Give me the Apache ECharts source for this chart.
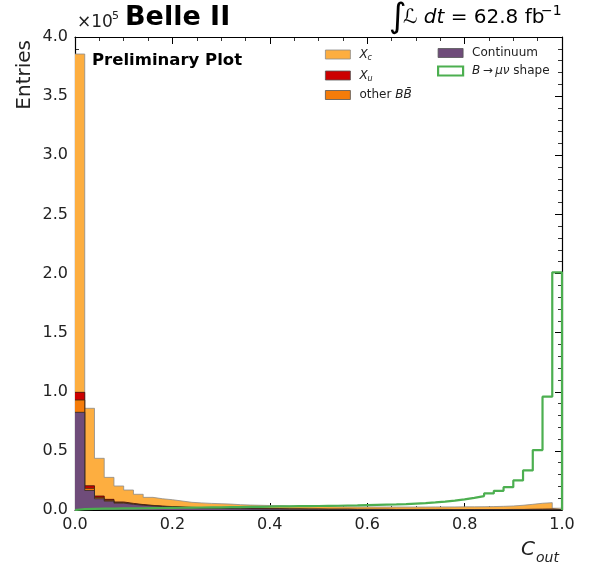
<!DOCTYPE html>
<html><head><meta charset="utf-8">
<script src="https://cdn.jsdelivr.net/npm/echarts@6/dist/echarts.min.js"></script>
<style>html,body{margin:0;padding:0;background:#fff}#c{width:591px;height:567px}</style>
</head><body><div id="c"></div>
<script>
// Histogram: 50 bins on C_out in [0,1], entries in units of 1e5
const binWidth = 0.02;
const continuum = [0.826,0.165,0.095,0.075,0.058,0.048,0.040,0.034,0.029,0.025,
0.022,0.019,0.017,0.015,0.013,0.012,0.011,0.010,0.009,0.008,
0.008,0.007,0.007,0.006,0.006,0.005,0.005,0.005,0.004,0.004,
0.004,0.004,0.003,0.003,0.003,0.003,0.003,0.003,0.002,0.002,
0.002,0.002,0.002,0.002,0.002,0.002,0.002,0.002,0.002,0.001];
const otherBB = [0.104,0.018,0.010,0.007,0.005,0.004,0.003,0.003,0.002,0.002,
0.002,0.002,0.002,0.001,0.001,0.001,0.001,0.001,0.001,0.001,
0.001,0.001,0.001,0.001,0.001,0.001,0.001,0.001,0.001,0.001,
0.001,0.001,0.001,0.001,0.001,0.001,0.001,0.001,0.001,0.001,
0.001,0.001,0.001,0.001,0.002,0.002,0.003,0.003,0.004,0.001];
const xu = [0.065,0.022,0.013,0.008,0.005,0.004,0.003,0.002,0.002,0.002,
0.001,0.001,0.001,0.001,0.001,0.001,0.001,0.001,0.001,0.001,
0.001,0.001,0.001,0.001,0.001,0.001,0.001,0.001,0.001,0.001,
0.001,0.001,0.001,0.001,0.001,0.001,0.001,0.001,0.001,0.001,
0.001,0.001,0.001,0.001,0.001,0.001,0.001,0.002,0.002,0.001];
const xc = [2.861,0.655,0.319,0.186,0.135,0.113,0.087,0.068,0.062,0.058,
0.051,0.043,0.040,0.039,0.038,0.036,0.032,0.030,0.029,0.028,
0.026,0.025,0.023,0.023,0.022,0.022,0.021,0.020,0.020,0.020,
0.019,0.019,0.020,0.020,0.020,0.020,0.021,0.021,0.022,0.023,
0.023,0.024,0.025,0.027,0.029,0.035,0.042,0.050,0.054,0.012];
const signal = [0.008,0.010,0.011,0.012,0.013,0.014,0.015,0.016,0.017,0.018,
0.019,0.020,0.021,0.022,0.023,0.024,0.025,0.026,0.027,0.028,
0.030,0.031,0.032,0.033,0.034,0.035,0.036,0.038,0.039,0.041,
0.043,0.045,0.047,0.050,0.054,0.058,0.064,0.071,0.079,0.090,
0.103,0.118,0.140,0.162,0.193,0.250,0.335,0.507,0.958,2.010];
const yTicks = [0,0.5,1.0,1.5,2.0,2.5,3.0,3.5,4.0];
const xTicks = [0,0.2,0.4,0.6,0.8,1.0];

const FONT = 'DejaVu Sans';
function stepData(arr){
  const d = arr.map((v,i)=>[i*binWidth, v]);
  d.push([arr.length*binWidth, arr[arr.length-1]]);
  return d;
}
// stack order bottom -> top
const layers = [
  {name:'Continuum', data:continuum, color:'#6f4c7a', edge:'#2b2b2b'},
  {name:'other', data:otherBB, color:'#f57c0a', edge:'#3b2a12'},
  {name:'Xu', data:xu, color:'#cc0000', edge:'#3b0c0c'},
  {name:'Xc', data:xc, color:'#fdae40', edge:'#8c8c8c'}
];
// cumulative tops computed from the layer arrays
let running = continuum.map(()=>0);
layers.forEach(l => { running = running.map((r,i)=>r + l.data[i]); l.cum = running.slice(); });
const series = layers.map(l => ({
  type:'line', name:l.name, step:'end', symbol:'none',
  data: stepData(l.cum), xAxisIndex:0, yAxisIndex:0,
  lineStyle:{color:l.edge, width:0.8},
  itemStyle:{color:l.color},
  areaStyle:{color:l.color, opacity:1, origin:'start'}
})).reverse();
// upper layers drawn first so lower layers paint over them
series.forEach((s, k) => { s.z = 2 + k * 0.01; });
series.push({
  type:'line', name:'signal', step:'end', symbol:'none', xAxisIndex:0, yAxisIndex:0,
  data: [[0,0]].concat(stepData(signal), [[1,0]]),
  lineStyle:{color:'#4caf50', width:2.2}, itemStyle:{color:'#4caf50'}, z:3
});

const legendRich = {
  n:{fontFamily:FONT, fontSize:12, color:'#222', lineHeight:14},
  it:{fontFamily:FONT, fontSize:12, fontStyle:'italic', color:'#222', lineHeight:14},
  sub:{fontFamily:FONT, fontSize:8, fontStyle:'italic', color:'#222', padding:[7,0,0,0], lineHeight:14}
};
const legendLabels = {
  'Xc':'{it|X}{sub|c}',
  'Xu':'{it|X}{sub|u}',
  'other':'{n|other }{it|BB\u0304}',
  'Continuum':'{n|Continuum}',
  'signal':'{it|B}{n|\u2009\u2192\u2009}{it|\u03bc\u03bd}{n| shape}'
};
const legendCommon = {
  orient:'vertical', icon:'rect', itemWidth:25, itemHeight:9, itemGap:6,
  selectedMode:false, top:47, padding:0,
  formatter: n => legendLabels[n],
  textStyle:{fontFamily:FONT, fontSize:12, color:'#222', rich:legendRich, padding:[0,0,0,4]}
};
function axisCommon(){
  return {
    type:'value', splitLine:{show:false},
    axisLine:{show:true, onZero:false, lineStyle:{color:'#000', width:1.2}},
    axisTick:{show:true, inside:true, length:7, lineStyle:{color:'#000', width:1}},
    axisLabel:{show:false}
  };
}
function minor(n){ return {show:true, splitNumber:n, length:4, lineStyle:{color:'#000', width:0.8}}; }
const chart = echarts.init(document.getElementById('c'), null, {renderer:'canvas'});
chart.setOption({
  animation:false,
  backgroundColor:'#fff',
  grid:{left:75, right:29, top:37, bottom:57, containLabel:false},
  xAxis:[
    Object.assign(axisCommon(), {min:0, max:1, interval:0.2, position:'bottom', minorTick:minor(4),
      axisLabel:{show:true, fontFamily:FONT, fontSize:16, color:'#222', margin:7,
        formatter:v => xTicks.indexOf(+v.toFixed(1))>=0 ? v.toFixed(1) : ''}}),
    Object.assign(axisCommon(), {min:0, max:1, interval:0.2, position:'top', minorTick:minor(4)})
  ],
  yAxis:[
    Object.assign(axisCommon(), {min:0, max:4, interval:0.5, position:'left', minorTick:minor(5),
      axisLabel:{show:true, fontFamily:FONT, fontSize:16, color:'#222', margin:7,
        formatter:v => yTicks.indexOf(+v.toFixed(1))>=0 ? v.toFixed(1) : ''}}),
    Object.assign(axisCommon(), {min:0, max:4, interval:0.5, position:'right', minorTick:minor(5)})
  ],
  legend:[
    Object.assign({}, legendCommon, {left:325, data:[
      {name:'Xc', itemStyle:{color:'#fdae40', borderColor:'#8c8c8c', borderWidth:0.8}},
      {name:'Xu', itemStyle:{color:'#cc0000', borderColor:'#555', borderWidth:0.8}},
      {name:'other', itemStyle:{color:'#f57c0a', borderColor:'#555', borderWidth:0.8}}
    ]}),
    Object.assign({}, legendCommon, {left:437, data:[
      {name:'Continuum', itemStyle:{color:'#6f4c7a', borderColor:'#555', borderWidth:0.8}},
      {name:'signal', itemStyle:{color:'#ffffff', borderColor:'#4caf50', borderWidth:2.2}}
    ]})
  ],
  graphic:[
    {type:'text', left:77, top:14, style:{text:'\u00d710', fontFamily:FONT, fontSize:17, fill:'#222'}},
    {type:'text', left:112, top:11, style:{text:'5', fontFamily:FONT, fontSize:11, fill:'#222'}},
    {type:'text', left:125, top:4, style:{text:'Belle II', fontFamily:FONT, fontSize:27, fontWeight:'bold', fill:'#000'}},
    {type:'text', left:389, top:1, style:{text:'\u222b', fontFamily:FONT, fontSize:34, fill:'#000'}},
    {type:'text', left:403, top:8, style:{
      text:'{L|\u2112} {it|dt} = 62.8 fb',
      fontFamily:FONT, fontSize:20, fill:'#000',
      rich:{L:{fontFamily:FONT, fontSize:20, fontStyle:'italic'}, it:{fontFamily:FONT, fontSize:20, fontStyle:'italic'}}
    }},
    {type:'text', left:541, top:4, style:{text:'\u22121', fontFamily:FONT, fontSize:14, fill:'#000'}},
    {type:'text', left:92, top:52, style:{text:'Preliminary Plot', fontFamily:FONT, fontSize:16.5, fontWeight:'bold', fill:'#000'}},
    {type:'text', x:25, y:40, rotation:Math.PI/2, style:{text:'Entries', fontFamily:FONT, fontSize:20, fill:'#222', align:'right', verticalAlign:'middle'}},
    {type:'text', left:521, top:540, style:{text:'C', fontFamily:FONT, fontSize:20, fontStyle:'italic', fill:'#222'}},
    {type:'text', left:536, top:551, style:{text:'out', fontFamily:FONT, fontSize:14, fontStyle:'italic', fill:'#222'}}
  ],
  series: series
});
</script></body></html>
